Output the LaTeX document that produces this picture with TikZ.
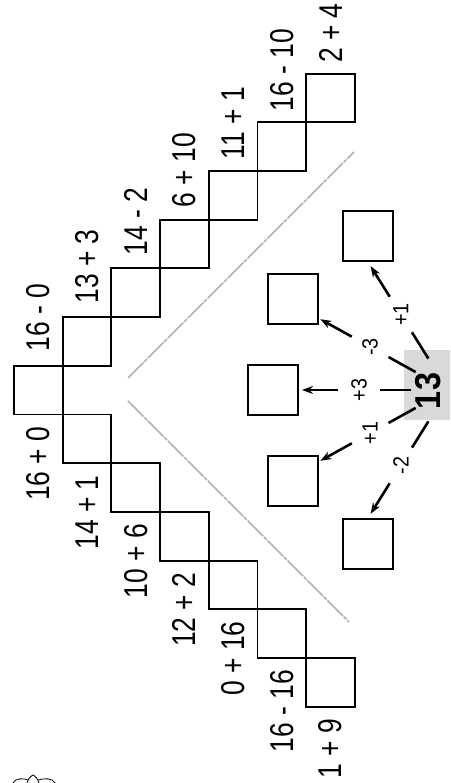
\documentclass[tikz,border=0pt]{standalone}
\usepackage{fontspec}
\newfontfamily\labfont{Liberation Sans}[FakeStretch=0.8]
\newfontfamily\numfont{Liberation Sans}[FakeStretch=0.9]
\usetikzlibrary{arrows.meta}
\begin{document}
\begin{tikzpicture}[x=1pt,y=1pt,rotate=90,transform shape,
  cell/.style={draw=black,line width=1.9pt,minimum size=48.7pt,inner sep=0pt,outer sep=0pt},
  tbox/.style={draw=black,line width=1.9pt,minimum size=50pt,inner sep=0pt,outer sep=0pt},
  lab/.style={inner sep=0pt,font=\labfont\fontsize{33}{38}\selectfont},
  rlab/.style={inner sep=0pt,font=\numfont\fontsize{22}{25}\selectfont},
  ray/.style={line width=2.6pt,black},
  arr/.style={ray,-{Stealth[length=11pt,width=8pt]}},
  guide/.style={gray!60,line width=1.5pt,dash pattern=on 22pt off 1pt on 4pt off 1.2pt},
  shade13/.style={fill=gray!30,inner sep=0pt,minimum width=70pt,minimum height=52pt},
  big13/.style={inner sep=0pt,font=\numfont\bfseries\fontsize{36}{40}\selectfont}]
\clip (0,0) rectangle (783,-450);
\fill[white] (0,0) rectangle (783,-450);
% guide V
\coordinate (gr1) at (405,-128);
\coordinate (gr2) at (631,-354);
\coordinate (gl1) at (382,-128);
\coordinate (gl2) at (161,-349);
\draw[guide] (gr1) -- (gr2);
\draw[guide] (gl1) -- (gl2);
% staircase
\node[cell] (A) at (392.85,-38.35) {};
\node[lab,anchor=west] (A-r) at (431.2,-38.35) {16 - 0};
\node[lab,anchor=east] (A-l) at (356.5,-38.35) {16 + 0};
\foreach \k/\rt/\lt in {1/{13 + 3}/{14 + 1},2/{14 - 2}/{10 + 6},3/{6 + 10}/{12 + 2},4/{11 + 1}/{0 + 16},5/{16 - 10}/{16 - 16},6/{2 + 4}/{1 + 9}}{
  \pgfmathsetmacro\rx{392.85+48.7*\k}
  \pgfmathsetmacro\lx{392.85-48.7*\k}
  \pgfmathsetmacro\cy{-38.35-48.7*\k}
  \pgfmathsetmacro\gap{38.35-0.6*\k}
  \node[cell] (R\k) at (\rx,\cy) {};
  \node[cell] (L\k) at (\lx,\cy) {};
  \node[lab,anchor=west] (R\k-t) at (\rx+\gap,\cy) {\rt};
  \node[lab,anchor=east] (L\k-t) at (\lx-36.35,\cy) {\lt};
}
% target boxes
\node[tbox] (B1) at (239,-368) {};
\node[tbox] (B2) at (302,-293) {};
\node[tbox] (B3) at (393,-273) {};
\node[tbox] (B4) at (484,-293) {};
\node[tbox] (B5) at (547,-368) {};
% 13
\node[shade13] (sq) at (398,-430) {};
\node[big13] (n13) at (392,-428) {13};
\coordinate (C) at (393,-448);
\foreach \a/\t/\i in {148/-2/1,119/+1/2,90/+3/3,61/-3/4,32/+1/5}{
  \coordinate (s\i) at ({393+37*cos(\a)},{-448+37*sin(\a)});
  \coordinate (e\i) at ({393+68*cos(\a)},{-448+68*sin(\a)});
  \coordinate (p\i) at ({393+110*cos(\a)},{-448+110*sin(\a)});
  \coordinate (q\i) at ({393+146*cos(\a)},{-448+146*sin(\a)});
  \draw[ray] (s\i) -- (e\i);
  \node[rlab] (g\i) at ({393+89*cos(\a)},{-448+89*sin(\a)}) {\t};
  \draw[arr] (p\i) -- (q\i);
}
% flower fragment
\draw[line width=0.8pt] (0,-27) .. controls (4,-28) and (7,-31) .. (8,-33) .. controls (7,-35) and (4,-38) .. (0,-39);
\draw[line width=0.8pt] (0,-13) .. controls (5,-15) and (5,-24) .. (3,-28);
\draw[line width=0.8pt] (0,-55) .. controls (5,-53) and (5,-44) .. (3,-38);
\end{tikzpicture}
\end{document}
